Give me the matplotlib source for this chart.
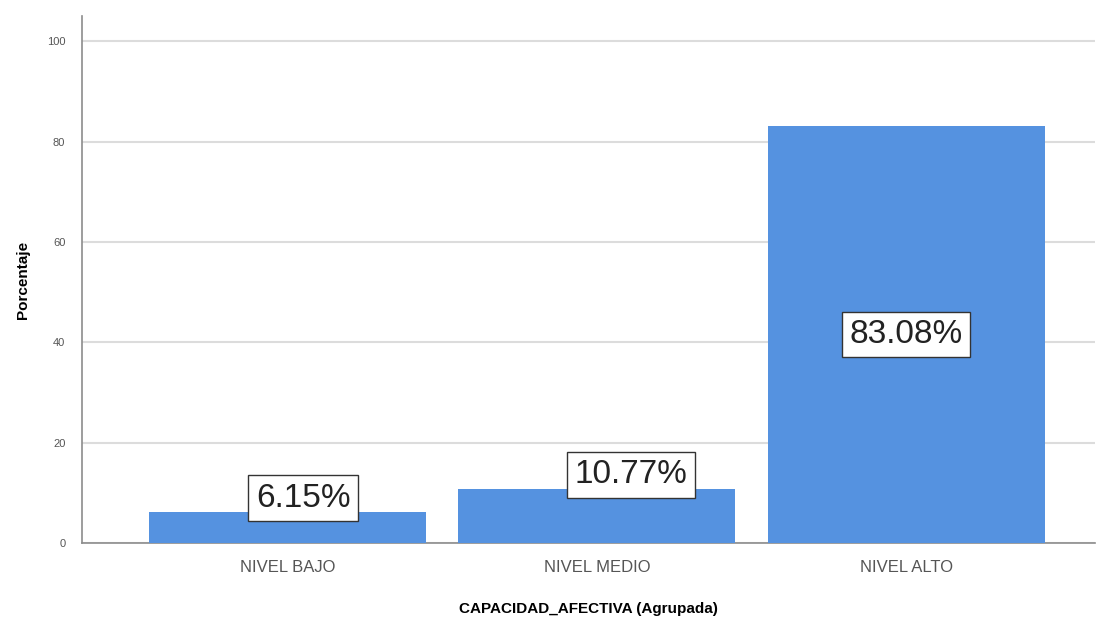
import matplotlib.pyplot as plt

categories = ['NIVEL BAJO', 'NIVEL MEDIO', 'NIVEL ALTO']
porcentajes = [6.15, 10.77, 83.08]
etiquetas = ['6.15%', '10.77%', '83.08%']
yticks = [0, 20, 40, 60, 80, 100]

plt.rcParams['font.family'] = ['Liberation Sans', 'DejaVu Sans']

fig = plt.figure(figsize=(10.98, 6.19), dpi=100)
ax = fig.add_axes([0.0747, 0.1228, 0.9223, 0.851])

pos = list(range(len(categories)))
ax.bar(pos, porcentajes, width=0.896, color='#5592e0', zorder=3)

ax.set_xlim(-0.665, 2.61)
ax.set_ylim(0, 105)
ax.set_yticks(yticks)
ax.set_xticks(pos)
ax.set_xticklabels(categories, fontsize=12, color='#555555')
ax.tick_params(axis='y', labelsize=8, colors='#555555', length=0, pad=12)
ax.tick_params(axis='x', length=0, pad=12)
ax.grid(axis='y', color='#dcdcdc', linewidth=1.5, zorder=0)

for s in ['top', 'right']:
    ax.spines[s].set_visible(False)
ax.spines['left'].set_color('#8c8c8c')
ax.spines['bottom'].set_color('#8c8c8c')
ax.spines['left'].set_linewidth(1.2)
ax.spines['bottom'].set_linewidth(1.2)

# value labels: above small bars, centred in the big one
offsets = [0.05, 0.11, 0.0]
for p, v, t, dx in zip(pos, porcentajes, etiquetas, offsets):
    y = v / 2 if v > 50 else v + 2.8
    ax.text(p + dx, y, t, ha='center', va='center', fontsize=24, color='#222222',
            bbox=dict(boxstyle='square,pad=0.22', facecolor='white', edgecolor='#333333', linewidth=1),
            zorder=5)

ax.set_ylabel('Porcentaje', fontsize=11, fontweight='bold', labelpad=12)
ax.set_xlabel('CAPACIDAD_AFECTIVA (Agrupada)', fontsize=11, fontweight='bold', labelpad=20)

fig.savefig('out.png', dpi=100)
